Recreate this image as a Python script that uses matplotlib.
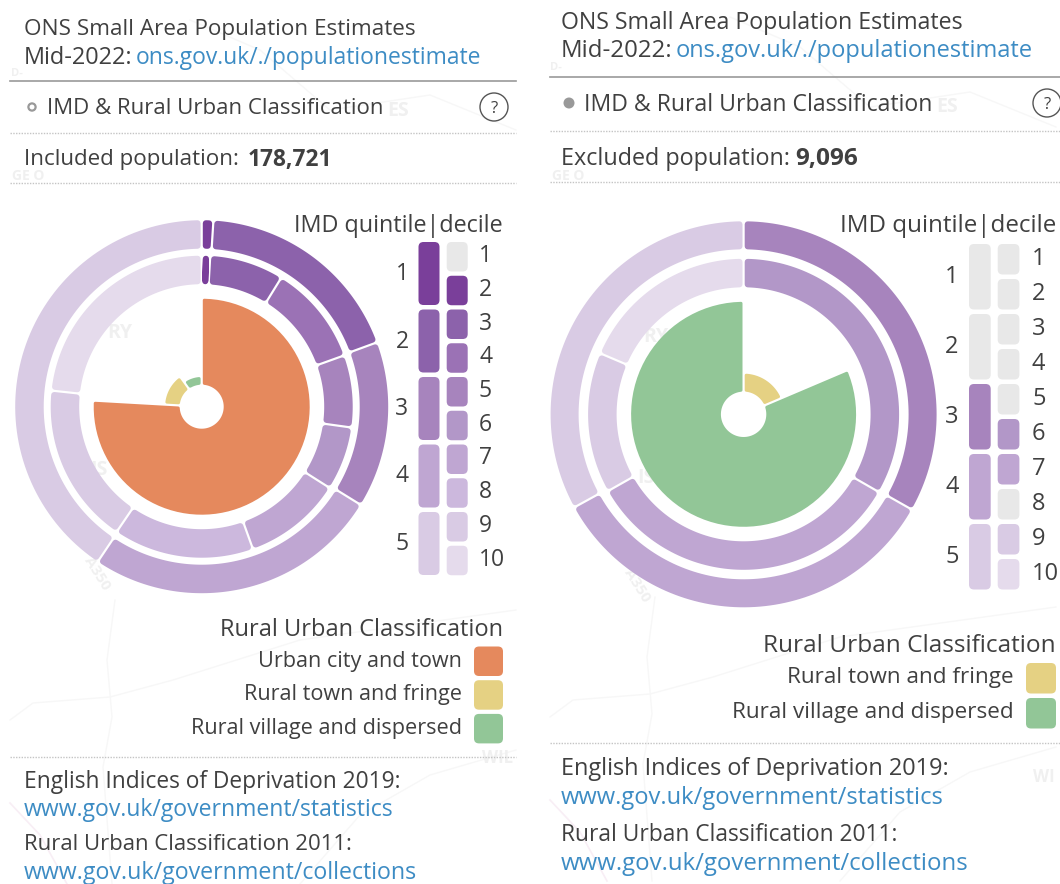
import numpy as np
import matplotlib
matplotlib.use("Agg")
import matplotlib.pyplot as plt
from matplotlib.patches import Circle, FancyBboxPatch, Polygon

plt.rcParams['font.family'] = ['Open Sans', 'DejaVu Sans']

# values, share of the ring in percent
left_quintile_ids = [1, 2, 3, 4, 5]
left_quintile_pct = [1.0, 18.4, 14.4, 25.6, 40.6]
left_decile_ids = [2, 3, 4, 5, 6, 7, 8, 9, 10]
left_decile_pct = [0.9, 7.9, 10.7, 7.7, 6.8, 10.5, 15.0, 17.2, 23.3]
left_class_ids = ['urban', 'town', 'village']
left_class_pct = [75.9, 14.2, 9.9]
left_class_reach = [1.0, 0.17, 0.09]

right_quintile_ids = [3, 4, 5]
right_quintile_pct = [33.2, 33.8, 33.0]
right_decile_ids = [6, 7, 9, 10]
right_decile_pct = [33.3, 33.5, 14.6, 18.6]
right_class_ids = ['town', 'village']
right_class_pct = [18.6, 81.4]
right_class_reach = [0.2, 1.0]

quintile_labels = ['1', '2', '3', '4', '5']
decile_labels = ['1', '2', '3', '4', '5', '6', '7', '8', '9', '10']

class_names = {'urban': 'Urban city and town', 'town': 'Rural town and fringe',
               'village': 'Rural village and dispersed'}

# styling
GREY = '#e8e8e8'
TEXT = '#404040'
LINK = '#3d8cc4'
FAINT = '#f0f0f0'
quintile_colors = {1: '#7a3f9a', 2: '#8c62ab', 3: '#a784bd', 4: '#bfa6d2', 5: '#d9cbe4'}
decile_colors = {2: '#7a3f9a', 3: '#8c62ab', 4: '#9b72b5', 5: '#a784bd', 6: '#b297c8',
                 7: '#bfa6d2', 8: '#ccb8dd', 9: '#d9cbe4', 10: '#e5dbec'}
class_colors = {'urban': '#e5895d', 'town': '#e5d183', 'village': '#92c697'}


def ring_segment(ax, cx, cy, r0, r1, a0, a1, color, gap=1.1, pad=3.0):
    # a0, a1 in degrees clockwise from north, the gap stays even in pixels
    a0, a1 = np.radians(a0), np.radians(a1)
    r0_in, r1_in = r0 + pad, r1 - pad
    pts = []
    for r, rev in [(r1_in, False), (r0_in, True)]:
        off = (gap + pad) / r
        start, stop = a0 + off, a1 - off
        if start > stop:
            start = stop = (a0 + a1) / 2
        t = np.linspace(start, stop, 80)
        if rev:
            t = t[::-1]
        pts.append(np.c_[cx + r * np.sin(t), cy - r * np.cos(t)])
    ax.add_patch(Polygon(np.vstack(pts), closed=True, facecolor=color, edgecolor=color,
                         linewidth=pad * 1.44, joinstyle='round', zorder=3))


def draw_ring(ax, cx, cy, r0, r1, ids, pct, colors):
    edges = np.r_[0, np.cumsum(pct)] / np.sum(pct) * 360
    for i, key in enumerate(ids):
        ring_segment(ax, cx, cy, r0, r1, edges[i], edges[i + 1], colors[key])


def draw_rose(ax, cx, cy, hole, rmax, ids, pct, reach):
    edges = np.r_[0, np.cumsum(pct)] / np.sum(pct) * 360
    for i, key in enumerate(ids):
        r1 = hole + reach[i] * (rmax - hole)
        ring_segment(ax, cx, cy, hole, r1, edges[i], edges[i + 1], class_colors[key], pad=1.5)


def rbox(ax, x, y, w, h, color, r=5):
    ax.add_patch(FancyBboxPatch((x, y), w, h, boxstyle=f'round,pad=0,rounding_size={r}',
                                facecolor=color, edgecolor='none', zorder=3))


def dotted(ax, x0, x1, y):
    ax.plot([x0, x1], [y, y], color='#c4c4c4', lw=1.0, ls=(0, (1, 1)), zorder=2)


def label(ax, x, y, s, size, color=TEXT, **kw):
    kw.setdefault('va', 'center')
    ax.text(x, y + 4, s, fontsize=size, color=color, zorder=4, **kw)


def ghost(ax, x, y, s, size, x1, **kw):
    t = ax.text(x, y, s, fontsize=size, color=FAINT, va='center', fontweight='bold', zorder=1, **kw)
    t.set_clip_path(plt.Rectangle((0, 0), x1, 884, transform=ax.transData))


fig = plt.figure(figsize=(10.6, 8.84), dpi=100)
ax = fig.add_axes([0, 0, 1, 1])
ax.set_xlim(0, 1060)
ax.set_ylim(884, 0)
ax.axis('off')

# faint base map behind both panels
for dx, dy in [(0, 0), (540, -3)]:
    for xs, ys in [([10, 33, 110, 173, 300, 516], [720, 703, 697, 680, 640, 610]),
                   ([115, 107, 112, 103, 112], [600, 660, 717, 767, 884]),
                   ([300, 360, 430, 516], [884, 815, 775, 750]),
                   ([190, 260, 330, 430, 516], [20, 50, 110, 95, 130])]:
        ax.plot(np.array(xs) + dx, np.array(ys) + dy, color='#f7f7f7', lw=1.0, zorder=1)
    ax.plot(np.array([10, 40, 67]) + dx, np.array([803, 835, 884]) + dy, color='#f8eef5', lw=1.2, zorder=1)

ghost(ax, 387, 111, 'ES', 14, 516)
ghost(ax, 12, 176, 'GE O', 10, 516)
ghost(ax, 11, 74, 'D-', 8, 516)
ghost(ax, 107, 333, 'RY', 14, 516)
ghost(ax, 90, 470, 'IS', 14, 516)
ghost(ax, 97, 573, 'A350', 11, 516, ha='center', rotation=-58)
ghost(ax, 482, 758, 'WIL', 12, 516)
ghost(ax, 936, 107, 'ES', 14, 1060)
ghost(ax, 552, 176, 'GE O', 10, 1060)
ghost(ax, 550, 68, 'D-', 8, 1060)
ghost(ax, 643, 337, 'RY', 14, 1060)
ghost(ax, 637, 478, 'IS', 14, 1060)
ghost(ax, 637, 585, 'A350', 11, 1060, ha='center', rotation=-58)
ghost(ax, 1033, 777, 'WI', 12, 1060)

# left panel
label(ax, 24, 26, 'ONS Small Area Population Estimates', 16.2)
label(ax, 24, 54, 'Mid-2022:', 16.9)
label(ax, 136, 54, 'ons.gov.uk/./populationestimate', 16.45, LINK)
ax.plot([10, 516], [80.5, 80.5], color='#999999', lw=1.2, zorder=2)
ax.add_patch(Circle((32, 107), 3.6, facecolor='white', edgecolor='#999999', lw=1.6, zorder=3))
label(ax, 47, 105, 'IMD & Rural Urban Classification', 16.0)
ax.add_patch(Circle((494, 107), 14, facecolor='none', edgecolor='#555555', lw=1.0, zorder=3))
label(ax, 494, 105, '?', 12, ha='center')
dotted(ax, 10, 516, 132.5)
label(ax, 24, 156, 'Included population:', 16.1)
label(ax, 248, 156, '178,721', 16.4, fontweight='bold')
dotted(ax, 10, 516, 182.5)

lcx, lcy = 201.7, 406.7
draw_ring(ax, lcx, lcy, 158, 186.5, left_quintile_ids, left_quintile_pct, quintile_colors)
draw_ring(ax, lcx, lcy, 122.5, 151, left_decile_ids, left_decile_pct, decile_colors)
draw_rose(ax, lcx, lcy, 22, 108, left_class_ids, left_class_pct, left_class_reach)

label(ax, 503, 222, 'IMD quintile|decile', 16.8, ha='right')
for i, q in enumerate(quintile_labels):
    y = 242 + i * 67.5
    rbox(ax, 418.5, y, 21, 63, quintile_colors[i + 1])
    label(ax, 402, y + 28, q, 16.5, ha='center')
for i, d in enumerate(decile_labels):
    y = 242 + i * 33.75
    rbox(ax, 446.7, y, 21, 29.5, GREY if i + 1 not in left_decile_ids else decile_colors[i + 1])
    label(ax, 479, y + 10, d, 16.5)

label(ax, 503, 626, 'Rural Urban Classification', 17.0, ha='right')
for i, key in enumerate(left_class_ids):
    y = 646.5 + i * 33.7
    rbox(ax, 474, y, 29, 29.5, class_colors[key])
    label(ax, 462, y + 10.5, class_names[key], 15.55, ha='right')
dotted(ax, 10, 516, 757)
label(ax, 24, 778, 'English Indices of Deprivation 2019:', 16.4)
label(ax, 24, 806, 'www.gov.uk/government/statistics', 16.6, LINK)
label(ax, 24, 841, 'Rural Urban Classification 2011:', 15.9)
label(ax, 24, 869, 'www.gov.uk/government/collections', 16.7, LINK)

# right panel
label(ax, 561, 19, 'ONS Small Area Population Estimates', 16.7)
label(ax, 561, 47, 'Mid-2022:', 17.3)
label(ax, 676, 47, 'ons.gov.uk/./populationestimate', 17.0, LINK)
ax.plot([550, 1060], [76.5, 76.5], color='#999999', lw=1.2, zorder=2)
ax.add_patch(Circle((569, 103), 5.5, facecolor='#999999', edgecolor='none', zorder=3))
label(ax, 584, 101, 'IMD & Rural Urban Classification', 16.6)
ax.add_patch(Circle((1047, 103), 14, facecolor='none', edgecolor='#555555', lw=1.0, zorder=3))
label(ax, 1047, 101, '?', 12, ha='center')
dotted(ax, 550, 1060, 130.5)
label(ax, 561, 155, 'Excluded population:', 16.85)
label(ax, 795, 155, '9,096', 17.6, fontweight='bold')
dotted(ax, 550, 1060, 182)

rcx, rcy = 743.6, 414.3
draw_ring(ax, rcx, rcy, 165, 193, right_quintile_ids, right_quintile_pct, quintile_colors)
draw_ring(ax, rcx, rcy, 127, 155.5, right_decile_ids, right_decile_pct, decile_colors)
draw_rose(ax, rcx, rcy, 22.7, 112.5, right_class_ids, right_class_pct, right_class_reach)

label(ax, 1056, 222, 'IMD quintile|decile', 17.4, ha='right')
for i, q in enumerate(quintile_labels):
    y = 244 + i * 70
    rbox(ax, 969, y, 21.7, 65.5, quintile_colors[i + 1] if i + 1 in right_quintile_ids else GREY)
    label(ax, 952, y + 29, q, 17, ha='center')
for i, d in enumerate(decile_labels):
    y = 244 + i * 35
    rbox(ax, 997.7, y, 21.7, 30.5, decile_colors[i + 1] if i + 1 in right_decile_ids else GREY)
    label(ax, 1032, y + 11, d, 17)

label(ax, 1056, 642, 'Rural Urban Classification', 17.6, ha='right')
for i, key in enumerate(right_class_ids):
    y = 663 + i * 35
    rbox(ax, 1026, y, 30, 30.5, class_colors[key])
    label(ax, 1014, y + 10.5, class_names[key], 16.2, ha='right')
dotted(ax, 550, 1060, 743)
label(ax, 561, 765, 'English Indices of Deprivation 2019:', 16.9)
label(ax, 561, 794, 'www.gov.uk/government/statistics', 17.1, LINK)
label(ax, 561, 831, 'Rural Urban Classification 2011:', 16.4)
label(ax, 561, 860, 'www.gov.uk/government/collections', 17.25, LINK)

fig.savefig('out.png', dpi=100)
